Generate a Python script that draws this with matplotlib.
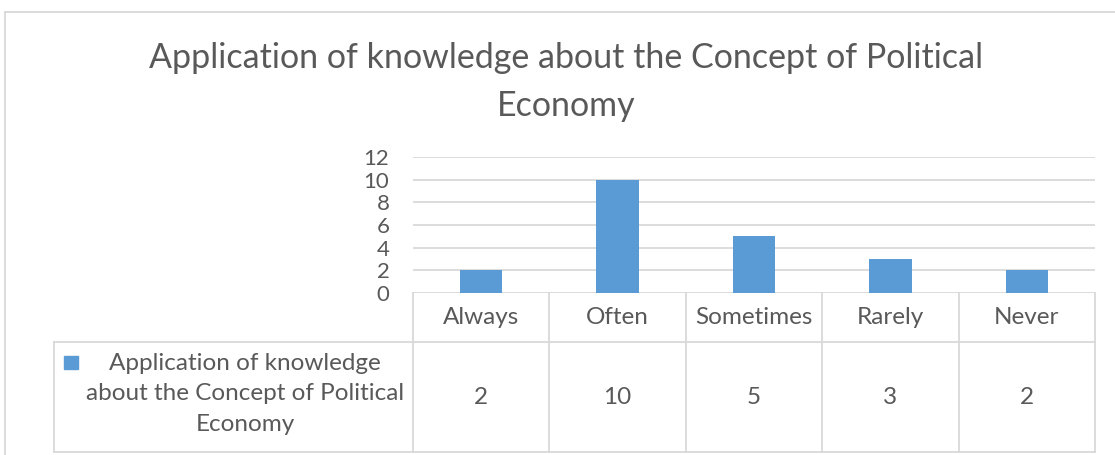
import matplotlib.pyplot as plt
from matplotlib.lines import Line2D
from matplotlib.patches import Rectangle
from matplotlib.transforms import blended_transform_factory

categories = ["Always", "Often", "Sometimes", "Rarely", "Never"]
values = [2, 10, 5, 3, 2]
series_name = "Application of knowledge\nabout the Concept of Political\nEconomy"
title = "Application of knowledge about the Concept of Political\nEconomy"
yticks = [0, 2, 4, 6, 8, 10, 12]

W, H = 1115, 455
TXT = "#595959"
GRID = "#D9D9D9"
BAR = "#5B9BD5"

plt.rcParams['font.family'] = ['Lato', 'DejaVu Sans']

fig = plt.figure(figsize=(W / 100, H / 100), dpi=100)


def fx(px):
    return px / W


def fy(py):
    return 1 - py / H


def hline(y, x0, x1):
    fig.add_artist(Line2D([fx(x0), fx(x1)], [fy(y), fy(y)], color=GRID, lw=1.3,
                          transform=fig.transFigure))


def vline(x, y0, y1, trans=None):
    fig.add_artist(Line2D([x, x], [fy(y0), fy(y1)], color=GRID, lw=1.3,
                          transform=trans or fig.transFigure))


# chart frame
hline(12, 5, W)
vline(fx(5), 12, H)

fig.text(fx(566), fy(82), title, ha='center', va='center', fontsize=24.5,
         color=TXT, linespacing=1.6)

ax = fig.add_axes([fx(413), fy(293), fx(1095) - fx(413), fy(157) - fy(293)])
x = range(len(categories))
ax.bar(x, values, width=0.31, color=BAR, zorder=2)
ax.set_xlim(-0.5, len(categories) - 0.5)
ax.set_ylim(0, 12)
ax.set_yticks(yticks)
ax.set_xticks([])
ax.grid(axis='y', color=GRID, lw=1.3, zorder=0)
for s in ax.spines.values():
    s.set_visible(False)
ax.tick_params(axis='y', length=0, labelsize=16, labelcolor=TXT, pad=17)

# data table under the axis
bt = blended_transform_factory(ax.transData, fig.transFigure)
for i in range(len(categories) + 1):
    vline(i - 0.5, 293, 452, trans=bt)
hline(342, 54, 1095)
hline(452, 54, 1095)
vline(fx(54), 342, 452)

for i, (c, v) in enumerate(zip(categories, values)):
    fig.text(i, fy(318), c, transform=bt, ha='center', va='center',
             fontsize=17.5, color=TXT)
    fig.text(i, fy(397), str(v), transform=bt, ha='center', va='center',
             fontsize=17.5, color=TXT)

fig.add_artist(Rectangle((fx(64), fy(369)), fx(78) - fx(64), fy(356) - fy(369),
                         color=BAR, transform=fig.transFigure))
fig.text(fx(245), fy(394), series_name, ha='center', va='center', fontsize=17.5,
         color=TXT, linespacing=1.55)

fig.savefig("out.png", dpi=100)
